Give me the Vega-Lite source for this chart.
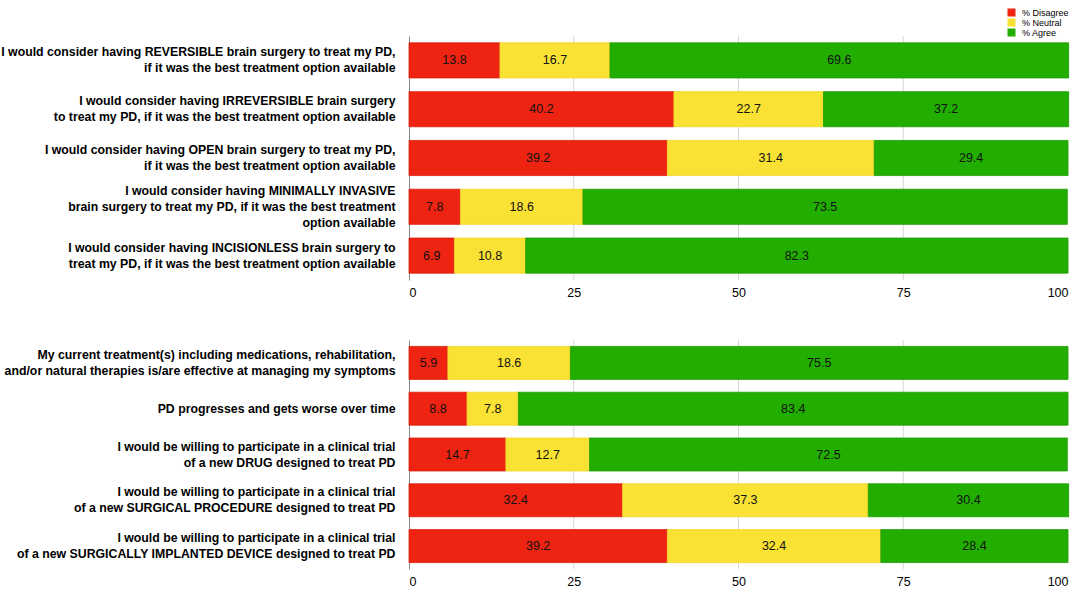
{
  "$schema": "https://vega.github.io/schema/vega-lite/v6.json",
  "description": "Attitudes towards brain surgery and clinical trials in PD, stacked percentage bars.",
  "background": "white",
  "padding": {"left": 0, "top": 8, "right": 6, "bottom": 5},
  "datasets": {
    "surgery": [
      {"q": "I would consider having REVERSIBLE brain surgery to treat my PD,|if it was the best treatment option available", "qi": 1, "cat": "% Disagree", "k": 1, "pct": 13.8},
      {"q": "I would consider having REVERSIBLE brain surgery to treat my PD,|if it was the best treatment option available", "qi": 1, "cat": "% Neutral", "k": 2, "pct": 16.7},
      {"q": "I would consider having REVERSIBLE brain surgery to treat my PD,|if it was the best treatment option available", "qi": 1, "cat": "% Agree", "k": 3, "pct": 69.6},
      {"q": "I would consider having IRREVERSIBLE brain surgery|to treat my PD, if it was the best treatment option available", "qi": 2, "cat": "% Disagree", "k": 1, "pct": 40.2},
      {"q": "I would consider having IRREVERSIBLE brain surgery|to treat my PD, if it was the best treatment option available", "qi": 2, "cat": "% Neutral", "k": 2, "pct": 22.7},
      {"q": "I would consider having IRREVERSIBLE brain surgery|to treat my PD, if it was the best treatment option available", "qi": 2, "cat": "% Agree", "k": 3, "pct": 37.2},
      {"q": "I would consider having OPEN brain surgery to treat my PD,|if it was the best treatment option available", "qi": 3, "cat": "% Disagree", "k": 1, "pct": 39.2},
      {"q": "I would consider having OPEN brain surgery to treat my PD,|if it was the best treatment option available", "qi": 3, "cat": "% Neutral", "k": 2, "pct": 31.4},
      {"q": "I would consider having OPEN brain surgery to treat my PD,|if it was the best treatment option available", "qi": 3, "cat": "% Agree", "k": 3, "pct": 29.4},
      {"q": "I would consider having MINIMALLY INVASIVE|brain surgery to treat my PD, if it was the best treatment|option available", "qi": 4, "cat": "% Disagree", "k": 1, "pct": 7.8},
      {"q": "I would consider having MINIMALLY INVASIVE|brain surgery to treat my PD, if it was the best treatment|option available", "qi": 4, "cat": "% Neutral", "k": 2, "pct": 18.6},
      {"q": "I would consider having MINIMALLY INVASIVE|brain surgery to treat my PD, if it was the best treatment|option available", "qi": 4, "cat": "% Agree", "k": 3, "pct": 73.5},
      {"q": "I would consider having INCISIONLESS brain surgery to|treat my PD,  if it was the best treatment option available", "qi": 5, "cat": "% Disagree", "k": 1, "pct": 6.9},
      {"q": "I would consider having INCISIONLESS brain surgery to|treat my PD,  if it was the best treatment option available", "qi": 5, "cat": "% Neutral", "k": 2, "pct": 10.8},
      {"q": "I would consider having INCISIONLESS brain surgery to|treat my PD,  if it was the best treatment option available", "qi": 5, "cat": "% Agree", "k": 3, "pct": 82.3}
    ],
    "trials": [
      {"q": "My current treatment(s) including medications, rehabilitation,|and/or natural therapies is/are effective at managing my symptoms", "qi": 1, "cat": "% Disagree", "k": 1, "pct": 5.9},
      {"q": "My current treatment(s) including medications, rehabilitation,|and/or natural therapies is/are effective at managing my symptoms", "qi": 1, "cat": "% Neutral", "k": 2, "pct": 18.6},
      {"q": "My current treatment(s) including medications, rehabilitation,|and/or natural therapies is/are effective at managing my symptoms", "qi": 1, "cat": "% Agree", "k": 3, "pct": 75.5},
      {"q": "PD progresses and gets worse over time", "qi": 2, "cat": "% Disagree", "k": 1, "pct": 8.8},
      {"q": "PD progresses and gets worse over time", "qi": 2, "cat": "% Neutral", "k": 2, "pct": 7.8},
      {"q": "PD progresses and gets worse over time", "qi": 2, "cat": "% Agree", "k": 3, "pct": 83.4},
      {"q": "I would be willing to participate in a clinical trial|of a new DRUG designed to treat PD", "qi": 3, "cat": "% Disagree", "k": 1, "pct": 14.7},
      {"q": "I would be willing to participate in a clinical trial|of a new DRUG designed to treat PD", "qi": 3, "cat": "% Neutral", "k": 2, "pct": 12.7},
      {"q": "I would be willing to participate in a clinical trial|of a new DRUG designed to treat PD", "qi": 3, "cat": "% Agree", "k": 3, "pct": 72.5},
      {"q": "I would be willing to participate in a clinical trial|of a new SURGICAL PROCEDURE designed to treat PD", "qi": 4, "cat": "% Disagree", "k": 1, "pct": 32.4},
      {"q": "I would be willing to participate in a clinical trial|of a new SURGICAL PROCEDURE designed to treat PD", "qi": 4, "cat": "% Neutral", "k": 2, "pct": 37.3},
      {"q": "I would be willing to participate in a clinical trial|of a new SURGICAL PROCEDURE designed to treat PD", "qi": 4, "cat": "% Agree", "k": 3, "pct": 30.4},
      {"q": "I would be willing to participate in a clinical trial|of a new SURGICALLY IMPLANTED DEVICE designed to treat PD", "qi": 5, "cat": "% Disagree", "k": 1, "pct": 39.2},
      {"q": "I would be willing to participate in a clinical trial|of a new SURGICALLY IMPLANTED DEVICE designed to treat PD", "qi": 5, "cat": "% Neutral", "k": 2, "pct": 32.4},
      {"q": "I would be willing to participate in a clinical trial|of a new SURGICALLY IMPLANTED DEVICE designed to treat PD", "qi": 5, "cat": "% Agree", "k": 3, "pct": 28.4}
    ],
    "gridlines": [{"g": 25}, {"g": 50}, {"g": 75}]
  },
  "spacing": 40,
  "vconcat": [
    {
      "width": 659,
      "height": 244,
      "layer": [
        {
          "data": {"name": "gridlines"},
          "mark": {"type": "rule", "color": "#d6d6d6", "strokeWidth": 1},
          "encoding": {
            "x": {"field": "g", "type": "quantitative", "title": null, "axis": {"values": [0, 25, 50, 75, 100]}}
          }
        },
        {
          "data": {"name": "surgery"},
          "transform": [
            {"stack": "pct", "groupby": ["q"], "sort": [{"field": "k"}], "as": ["p0", "p1"]}
          ],
          "mark": {"type": "bar", "strokeWidth": 0.8},
          "encoding": {
            "y": {"field": "q", "type": "nominal", "sort": {"field": "qi"}, "title": null,
                  "scale": {"paddingInner": 0.28, "paddingOuter": 0.14}},
            "x": {"field": "p0", "type": "quantitative", "scale": {"domain": [0, 100]}, "title": null,
                  "axis": {"values": [0, 25, 50, 75, 100]}},
            "x2": {"field": "p1"},
            "color": {"field": "cat", "type": "nominal", "sort": ["% Disagree", "% Neutral", "% Agree"],
                      "scale": {"domain": ["% Disagree", "% Neutral", "% Agree"], "range": ["#ee2311", "#f9e234", "#22ae00"]},
                      "legend": {"title": null, "orient": "none", "legendX": 598, "legendY": -28}},
            "stroke": {"field": "cat", "type": "nominal",
                       "scale": {"domain": ["% Disagree", "% Neutral", "% Agree"], "range": ["#d81e0e", "#f0d42a", "#1e9c00"]},
                       "legend": null}
          }
        },
        {
          "data": {"name": "surgery"},
          "transform": [
            {"stack": "pct", "groupby": ["q"], "sort": [{"field": "k"}], "as": ["p0", "p1"]},
            {"calculate": "(datum.p0 + datum.p1) / 2", "as": "mid"}
          ],
          "mark": {"type": "text", "font": "Liberation Sans", "fontSize": 12.5, "color": "#111"},
          "encoding": {
            "y": {"field": "q", "type": "nominal", "sort": {"field": "qi"}, "title": null},
            "x": {"field": "mid", "type": "quantitative", "title": null, "axis": {"values": [0, 25, 50, 75, 100]}},
            "text": {"field": "pct", "type": "quantitative", "format": ".1f"}
          }
        }
      ]
    },
    {
      "width": 659,
      "height": 229,
      "layer": [
        {
          "data": {"name": "gridlines"},
          "mark": {"type": "rule", "color": "#d6d6d6", "strokeWidth": 1},
          "encoding": {
            "x": {"field": "g", "type": "quantitative", "title": null, "axis": {"values": [0, 25, 50, 75, 100]}}
          }
        },
        {
          "data": {"name": "trials"},
          "transform": [
            {"stack": "pct", "groupby": ["q"], "sort": [{"field": "k"}], "as": ["p0", "p1"]}
          ],
          "mark": {"type": "bar", "strokeWidth": 0.8},
          "encoding": {
            "y": {"field": "q", "type": "nominal", "sort": {"field": "qi"}, "title": null,
                  "scale": {"paddingInner": 0.28, "paddingOuter": 0.14}},
            "x": {"field": "p0", "type": "quantitative", "scale": {"domain": [0, 100]}, "title": null,
                  "axis": {"values": [0, 25, 50, 75, 100]}},
            "x2": {"field": "p1"},
            "color": {"field": "cat", "type": "nominal", "sort": ["% Disagree", "% Neutral", "% Agree"],
                      "scale": {"domain": ["% Disagree", "% Neutral", "% Agree"], "range": ["#ee2311", "#f9e234", "#22ae00"]},
                      "legend": null},
            "stroke": {"field": "cat", "type": "nominal",
                       "scale": {"domain": ["% Disagree", "% Neutral", "% Agree"], "range": ["#d81e0e", "#f0d42a", "#1e9c00"]},
                       "legend": null}
          }
        },
        {
          "data": {"name": "trials"},
          "transform": [
            {"stack": "pct", "groupby": ["q"], "sort": [{"field": "k"}], "as": ["p0", "p1"]},
            {"calculate": "(datum.p0 + datum.p1) / 2", "as": "mid"}
          ],
          "mark": {"type": "text", "font": "Liberation Sans", "fontSize": 12.5, "color": "#111"},
          "encoding": {
            "y": {"field": "q", "type": "nominal", "sort": {"field": "qi"}, "title": null},
            "x": {"field": "mid", "type": "quantitative", "title": null, "axis": {"values": [0, 25, 50, 75, 100]}},
            "text": {"field": "pct", "type": "quantitative", "format": ".1f"}
          }
        }
      ]
    }
  ],
  "resolve": {"scale": {"color": "shared", "stroke": "shared"}},
  "config": {
    "view": {"stroke": null},
    "font": "Liberation Sans",
    "axisX": {
      "grid": false,
      "domain": false,
      "ticks": false,
      "labelFont": "Liberation Sans",
      "labelFontSize": 12.5,
      "labelColor": "#000",
      "labelPadding": 6
    },
    "axisY": {
      "domain": true,
      "domainColor": "#888",
      "ticks": false,
      "grid": false,
      "labelExpr": "split(datum.label, '|')",
      "labelOffset": {
        "condition": [
          {"test": "length(split(datum.label, '|')) == 3", "value": -16},
          {"test": "length(split(datum.label, '|')) == 2", "value": -8}
        ],
        "value": 0
      },
      "labelFont": "Liberation Sans",
      "labelFontWeight": "bold",
      "labelFontSize": 12.3,
      "labelColor": "#000",
      "labelLineHeight": 16,
      "labelPadding": 14,
      "labelLimit": 0
    },
    "legend": {
      "symbolType": "square",
      "symbolSize": 64,
      "symbolStrokeWidth": 0,
      "labelFont": "Liberation Sans",
      "labelFontSize": 9,
      "labelColor": "#000",
      "rowPadding": 0,
      "labelOffset": 6
    }
  }
}
